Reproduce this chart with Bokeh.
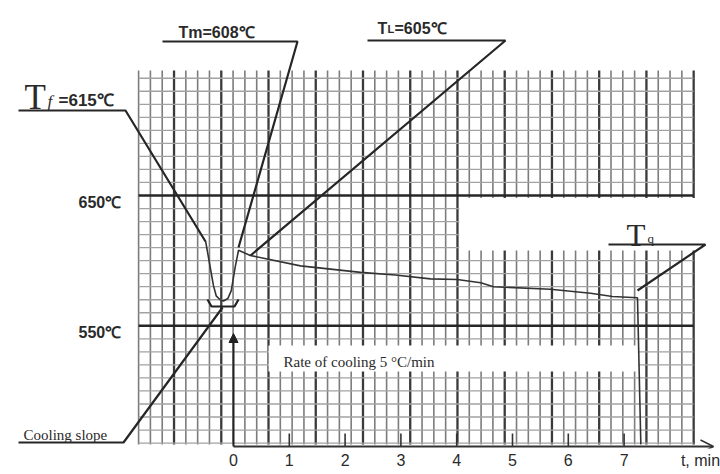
from bokeh.plotting import figure
from bokeh.models import Range1d, FixedTicker, Arrow, OpenHead, NormalHead
from bokeh.embed import file_html
from bokeh.resources import INLINE
from bokeh.core.properties import value

# ---------------- data ----------------
# cooling curve: time (min) and temperature (°C)
curve_t = [-0.50, -0.43, -0.36, -0.31, -0.24, -0.18, -0.10, -0.04, 0.03, 0.09,
           0.30, 1.20, 2.28, 2.90, 3.53, 4.01, 4.43, 4.66, 5.68, 6.40, 6.79, 7.24, 7.30]
curve_T = [615, 598, 581, 573, 570, 569, 571, 577, 595, 608,
           604, 596, 591, 589, 586, 585.5, 583, 580, 578, 575, 572.5, 571.5, 459]
tick_minutes = [0, 1, 2, 3, 4, 5, 6, 7]
axis_unit_text = "t, min"
temp_label_values = [650, 550]
temp_label_texts = ["650℃", "550℃"]
Tf_value, Tm_value, TL_value = 615, 608, 605
rate_text = "Rate of cooling  5 °C/min"

# ---------------- layout helpers: picture pixel -> data ----------------
X0, PX_PER_MIN = 233.0, 55.8
Y650, PX_PER_DEG = 195.0, 1.303


def tx(px):
    return (px - X0) / PX_PER_MIN


def ty(py):
    return 650 - (py - Y650) / PX_PER_DEG


p = figure(frame_width=720, frame_height=448, output_backend="svg", toolbar_location=None,
           x_range=Range1d(tx(0), tx(720)), y_range=Range1d(ty(448), ty(0)),
           y_axis_location=None, min_border=0, min_border_left=0, min_border_right=0,
           min_border_top=0, min_border_bottom=0)
p.outline_line_color = None
p.xgrid.visible = False
p.ygrid.visible = False
p.background_fill_color = "white"
p.border_fill_color = "white"

# x axis: tick labels 0..7 plus the unit at the arrow end
unit_pos = round(tx(700), 3)
ax = p.xaxis[0]
ax.ticker = FixedTicker(ticks=tick_minutes + [unit_pos])
ax.major_label_overrides = {unit_pos: axis_unit_text}
ax.axis_line_color = None
ax.major_tick_line_color = None
ax.major_tick_in = 0
ax.major_tick_out = 0
ax.minor_tick_line_color = None
ax.minor_tick_in = 0
ax.minor_tick_out = 0
ax.major_label_text_font = "Liberation Sans"
ax.major_label_text_font_size = "16px"
ax.major_label_text_color = "#2a2a2a"
ax.major_label_standoff = 3

# ---------------- chart-paper grid (decoration) ----------------
g_left, g_right, g_top, g_bot = 138.1, 693.0, 70.0, 444.0
step_px = 11.81
vx = [tx(g_left + i * step_px) for i in range(48)]
v_minor = [x for i, x in enumerate(vx) if (i - 3) % 4 != 0]
v_major = [x for i, x in enumerate(vx) if (i - 3) % 4 == 0]
p.segment(x0=v_minor, x1=v_minor, y0=[ty(g_bot)] * len(v_minor), y1=[ty(g_top)] * len(v_minor),
          line_color="#7c7c7c", line_width=1.6)
p.segment(x0=v_major, x1=v_major, y0=[ty(g_bot)] * len(v_major), y1=[ty(g_top)] * len(v_major),
          line_color="#3a3a3a", line_width=2.3)
h_vals = [v for v in range(460, 750, 10) if v not in (550, 650)]
p.segment(x0=[tx(g_left)] * len(h_vals), x1=[tx(g_right)] * len(h_vals), y0=h_vals, y1=h_vals,
          line_color="#a2a2a2", line_width=1.3)

# white patches of the paper
p.quad(left=[tx(268), tx(458.8)], right=[tx(638), tx(700)],
       top=[ty(345), ty(197.5)], bottom=[ty(371), ty(250)],
       fill_color="white", line_color=None)

# bold temperature lines
p.segment(x0=[tx(g_left)] * 2, x1=[tx(g_right)] * 2, y0=temp_label_values, y1=temp_label_values,
          line_color="#262626", line_width=2.6)

# ---------------- axis line, tick marks and arrows ----------------
p.add_layout(Arrow(end=OpenHead(size=13, line_color="#333333", line_width=1.5),
                   x_start=0, y_start=ty(446), x_end=tx(713), y_end=ty(446),
                   line_color="#333333", line_width=1.8))
tk = tick_minutes[1:]
p.segment(x0=tk, x1=tk, y0=[ty(446)] * len(tk), y1=[ty(433)] * len(tk),
          line_color="#333333", line_width=1.6)
p.add_layout(Arrow(end=NormalHead(size=9, fill_color="#222222", line_color="#222222"),
                   x_start=0, y_start=ty(446), x_end=0, y_end=ty(333),
                   line_color="#222222", line_width=2))

# ---------------- cooling curve ----------------
p.line(curve_t, curve_T, line_color="#333333", line_width=1.6)

# ---------------- leader lines ----------------
leaders = [
    [(18, 110), (125, 110), (205, 241)],   # Tf
    [(162, 41), (297, 41), (238, 247)],    # Tm
    [(367, 40), (505, 40), (250, 255)],    # TL
    [(608, 244), (705, 244), (637, 290)],  # Tq
    [(18, 442), (123, 442), (222, 307)],   # cooling slope
]
p.multi_line(xs=[[tx(a) for a, b in L] for L in leaders],
             ys=[[ty(b) for a, b in L] for L in leaders],
             line_color="#262626", line_width=2.2)
bracket = [(207, 299), (211, 306), (234, 306), (238, 299)]
p.line([tx(a) for a, b in bracket], [ty(b) for a, b in bracket], line_color="#222222", line_width=2.2)


# ---------------- texts ----------------
def add_text(px, py, s, font, size, style="normal", color="#2a2a2a"):
    p.text(x=[tx(px)], y=[ty(py)], text=[s], text_font=value(font), text_font_size=size,
           text_font_style=style, text_color=color, text_align="left", text_baseline="alphabetic")


add_text(178, 32, f"Tm={Tm_value}℃", "Liberation Sans", "16px", "bold")
add_text(377, 28, "T", "Liberation Sans", "16px", "bold")
add_text(387, 28, "L", "Liberation Sans", "11px", "bold")
add_text(394, 28, f"={TL_value}℃", "Liberation Sans", "16px", "bold")
add_text(24, 97, "T", "Liberation Serif", "35px")
add_text(47, 101, "f", "Liberation Serif", "17px", "italic")
add_text(58, 100, f"={Tf_value}℃", "Liberation Sans", "17px", "bold")
for v, s in zip(temp_label_values, temp_label_texts):
    add_text(78, 195 + (650 - v) * PX_PER_DEG + 7, s, "Liberation Sans", "16px", "bold")
add_text(626, 235, "T", "Liberation Serif", "31px")
add_text(647, 238, "q", "Liberation Serif", "13px")
add_text(23, 434, "Cooling slope", "Liberation Serif", "15px")
add_text(283, 361, rate_text, "Liberation Serif", "15px")

open("out.html", "w").write(file_html(p, INLINE))
